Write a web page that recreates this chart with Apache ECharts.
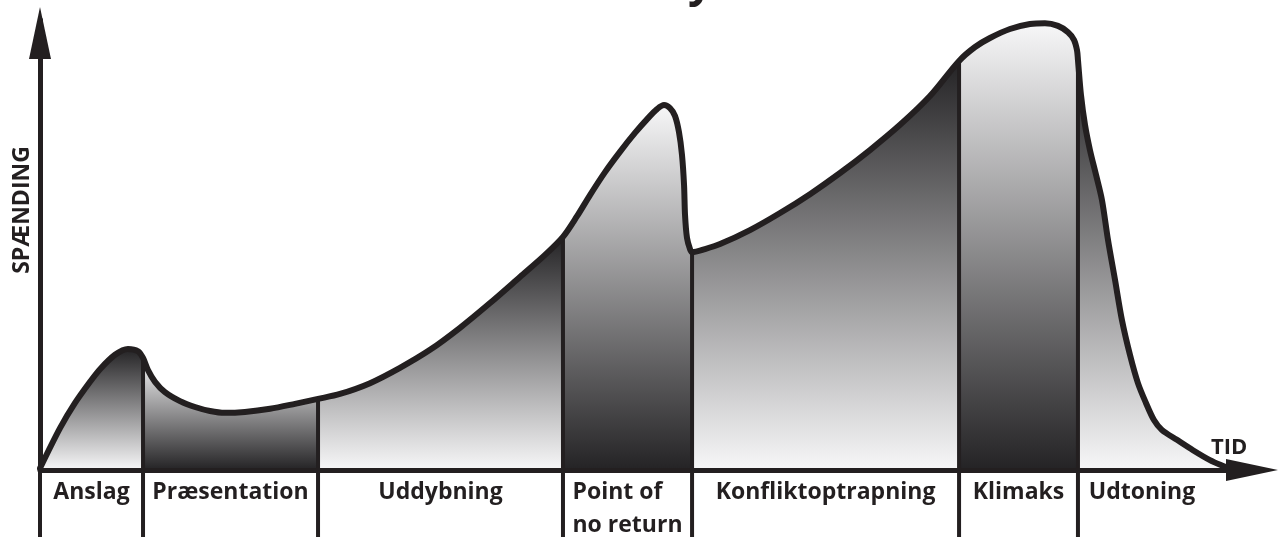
<!DOCTYPE html>
<html><head><meta charset="utf-8">
<script src="https://cdn.jsdelivr.net/npm/echarts@6/dist/echarts.min.js"></script>
<style>html,body{margin:0;padding:0;background:#fff}#c{width:1279px;height:537px}</style>
</head><body><div id="c"></div>
<script>
// Phase names (x-axis segments)
const phaseNames = ['Anslag', 'Præsentation', 'Uddybning', 'Point of\nno return', 'Konfliktoptrapning', 'Klimaks', 'Udtoning'];
// Phase boundaries on the time axis (0..100)
const phaseStart = [0, 8.50, 22.94, 43.15, 53.80, 75.83, 85.64];
const phaseEnd   = [8.50, 22.94, 43.15, 53.80, 75.83, 85.64, 96.2];
// Tension curve per phase: [time, tension]
const anslag = [[0,0.4],[1.65,9.3],[2.89,14.9],[4.13,19.6],[4.95,22.4],[6.19,25.6],[7.26,26.9],[8.09,26.4],[8.50,24.9]];
const praesentation = [[8.50,24.9],[8.91,22.2],[9.49,19.6],[10.31,17.3],[11.55,15.3],[12.79,14.0],[14.03,13.1],[15.26,12.7],[16.91,12.9],[18.98,13.6],[21.04,14.7],[22.94,15.8]];
const uddybning = [[22.94,15.8],[24.75,16.9],[27.23,19.3],[29.70,22.7],[32.18,26.7],[34.65,31.6],[37.13,37.1],[39.60,42.9],[41.67,47.8],[43.15,51.8]];
const pointOfNoReturn = [[43.15,51.8],[44.31,56.4],[45.38,61.1],[46.62,66.2],[47.85,70.7],[49.09,74.9],[50.17,78.2],[50.91,80.2],[51.49,81.1],[51.98,80.4],[52.39,78.7],[52.72,75.1],[52.97,70.0],[53.14,63.3],[53.22,56.7],[53.38,51.6],[53.63,49.1],[53.80,48.4]];
const konflikt = [[53.80,48.4],[54.87,49.1],[56.11,50.2],[58.58,53.3],[61.06,57.1],[63.53,61.3],[66.01,66.0],[68.48,71.1],[70.96,76.7],[73.43,83.1],[75.83,90.9]];
const klimaks = [[75.83,90.9],[77.15,94.0],[78.38,96.0],[80.03,98.0],[81.68,99.1],[82.92,99.3],[83.99,98.7],[84.82,97.3],[85.31,95.6],[85.56,93.3],[85.64,91.1]];
const udtoning = [[85.64,91.1],[85.89,83.3],[86.22,76.7],[86.63,71.1],[87.13,65.6],[87.62,60.0],[88.12,51.1],[88.70,42.2],[89.27,33.3],[89.93,25.6],[90.59,19.3],[91.25,14.9],[91.91,11.1],[92.57,8.9],[93.81,6.7],[95.13,4.4],[96.53,2.2],[97.77,0.7],[98.35,0]];
const axisNames = { x: 'TID', y: 'SPÆNDING' };

const phaseCurves = [anslag, praesentation, uddybning, pointOfNoReturn, konflikt, klimaks, udtoning];
const INK = '#231f20';
const DARK = '#242325', LIGHT = '#f7f7f8';
const FONT = '"Open Sans", "DejaVu Sans", sans-serif';

const fullCurve = [];
phaseCurves.forEach((c, i) => c.forEach((p, j) => { if (i === 0 || j > 0) fullCurve.push(p); }));

const SMOOTH = 0.3;
const series = [];
phaseCurves.forEach((c, i) => {
  const darkTop = i % 2 === 0;
  series.push({
    type: 'line', data: c, smooth: SMOOTH, symbol: 'none', z: 1, silent: true,
    lineStyle: { width: 0, opacity: 0 },
    areaStyle: { opacity: 1, color: new echarts.graphic.LinearGradient(0, 0, 0, 1, [
      { offset: 0, color: darkTop ? DARK : LIGHT },
      { offset: 1, color: darkTop ? LIGHT : DARK }
    ]) }
  });
});
series.push({
  type: 'custom', z: 2, clip: false, silent: true,
  data: phaseNames.map((n, i) => [phaseStart[i], phaseCurves[i][0][1], phaseEnd[i], i]),
  renderItem: function (params, api) {
    const x0 = api.value(0), yTop = api.value(1), x1 = api.value(2);
    const idx = api.value(3);
    const top = api.coord([x0, yTop]);
    const base = api.coord([x0, 0]);
    const mid = api.coord([(x0 + x1) / 2, 0]);
    const H = api.getHeight();
    const txt = phaseNames[idx].split('\n').map(s => '{l|' + s + '}').join('\n');
    return {
      type: 'group',
      children: [
        { type: 'line', shape: { x1: top[0], y1: top[1], x2: top[0], y2: H }, style: { stroke: INK, lineWidth: 4 } },
        { type: 'text', x: mid[0], y: base[1] + 6, style: {
            text: txt, align: 'center', verticalAlign: 'top', fill: INK,
            fontSize: 23, fontWeight: 'bold', fontFamily: FONT, lineHeight: 33,
            rich: { l: { align: 'left', fontSize: 23, fontWeight: 'bold', fontFamily: FONT, lineHeight: 33, fill: INK } }
        } }
      ]
    };
  }
});
series.push({
  type: 'line', data: fullCurve, smooth: SMOOTH, symbol: 'none', z: 3, silent: true,
  lineStyle: { width: 6, color: INK, join: 'round', cap: 'round' }
});

const chart = echarts.init(document.getElementById('c'), null, { renderer: 'canvas' });
chart.setOption({
  animation: false,
  backgroundColor: '#fff',
  grid: { left: 40, right: 27, top: 20, bottom: 67 },
  graphic: [
    { type: 'text', x: 688, y: 5, z: 20, style: { text: 'y', fontSize: 44, fontWeight: 'bold', fontFamily: FONT, fill: INK, align: 'left', verticalAlign: 'bottom' } },
    { type: 'text', x: 1211, y: 448, z: 20, style: { text: axisNames.x, fontSize: 22, fontWeight: 'bold', fontFamily: FONT, fill: INK, align: 'left', verticalAlign: 'middle' } }
  ],
  xAxis: {
    type: 'value', min: 0, max: 100, z: 10,
    axisLine: { show: true, symbol: ['none', 'triangle'], symbolSize: [22, 52], symbolOffset: [0, 0], lineStyle: { color: INK, width: 5 } },
    axisTick: { show: false }, axisLabel: { show: false }, splitLine: { show: false }
  },
  yAxis: {
    type: 'value', min: 0, max: 100, z: 10,
    name: axisNames.y, nameLocation: 'middle', nameRotate: 90, nameGap: 6,
    nameTextStyle: { color: INK, fontSize: 23, fontWeight: 'bold', fontFamily: FONT, padding: [0, 0, 0, 70] },
    axisLine: { show: true, symbol: ['none', 'triangle'], symbolSize: [22, 52], symbolOffset: [0, -13], lineStyle: { color: INK, width: 5 } },
    axisTick: { show: false }, axisLabel: { show: false }, splitLine: { show: false }
  },
  series: series
});
</script></body></html>
